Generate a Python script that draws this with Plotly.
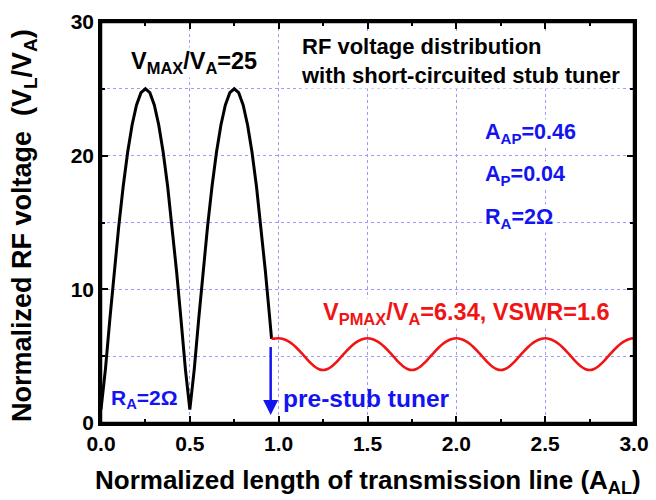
import plotly.graph_objects as go

# Black curve (before stub tuner)
black_x = [0.0, 0.025, 0.05, 0.075, 0.1, 0.125, 0.15, 0.175, 0.2, 0.225,
           0.25, 0.275, 0.3, 0.325, 0.35, 0.375, 0.4, 0.425, 0.45, 0.475,
           0.5, 0.525, 0.55, 0.575, 0.6, 0.625, 0.65, 0.675, 0.7, 0.725,
           0.75, 0.775, 0.8, 0.825, 0.85, 0.875, 0.9, 0.925, 0.95, 0.96]
black_y = [1.00, 4.03, 7.79, 11.39, 14.73, 17.71, 20.25, 22.30, 23.80, 24.71,
           25.00, 24.71, 23.80, 22.30, 20.25, 17.71, 14.73, 11.39, 7.79, 4.03,
           1.00, 4.03, 7.79, 11.39, 14.73, 17.71, 20.25, 22.30, 23.80, 24.71,
           25.00, 24.71, 23.80, 22.30, 20.25, 17.71, 14.73, 11.39, 7.79, 6.30]

# Red curve (after stub tuner)
red_x = [0.96, 0.975,
         1.0, 1.025, 1.05, 1.075, 1.1, 1.125, 1.15, 1.175, 1.2, 1.225,
         1.25, 1.275, 1.3, 1.325, 1.35, 1.375, 1.4, 1.425, 1.45, 1.475,
         1.5, 1.525, 1.55, 1.575, 1.6, 1.625, 1.65, 1.675, 1.7, 1.725,
         1.75, 1.775, 1.8, 1.825, 1.85, 1.875, 1.9, 1.925, 1.95, 1.975,
         2.0, 2.025, 2.05, 2.075, 2.1, 2.125, 2.15, 2.175, 2.2, 2.225,
         2.25, 2.275, 2.3, 2.325, 2.35, 2.375, 2.4, 2.425, 2.45, 2.475,
         2.5, 2.525, 2.55, 2.575, 2.6, 2.625, 2.65, 2.675, 2.7, 2.725,
         2.75, 2.775, 2.8, 2.825, 2.85, 2.875, 2.9, 2.925, 2.95, 2.975,
         3.0]
red_y = [6.30, 6.31,
         6.34, 6.29, 6.15, 5.93, 5.63, 5.29, 4.92, 4.55, 4.25, 4.04,
         3.96, 4.04, 4.25, 4.55, 4.92, 5.29, 5.63, 5.93, 6.15, 6.29,
         6.34, 6.29, 6.15, 5.93, 5.63, 5.29, 4.92, 4.55, 4.25, 4.04,
         3.96, 4.04, 4.25, 4.55, 4.92, 5.29, 5.63, 5.93, 6.15, 6.29,
         6.34, 6.29, 6.15, 5.93, 5.63, 5.29, 4.92, 4.55, 4.25, 4.04,
         3.96, 4.04, 4.25, 4.55, 4.92, 5.29, 5.63, 5.93, 6.15, 6.29,
         6.34, 6.29, 6.15, 5.93, 5.63, 5.29, 4.92, 4.55, 4.25, 4.04,
         3.96, 4.04, 4.25, 4.55, 4.92, 5.29, 5.63, 5.93, 6.15, 6.29,
         6.34]

x_title = "Normalized length of transmission line (A<sub>AL</sub>)"
y_title = "Normalized RF voltage  (V<sub>L</sub>/V<sub>A</sub>)"

FONT = "Liberation Sans"
BLUE = "#1414f0"
RED = "#f01414"
GRID = "#9a9aff"

fig = go.Figure()
fig.add_trace(go.Scatter(x=black_x, y=black_y, mode="lines",
                         line=dict(color="black", width=3), showlegend=False))
fig.add_trace(go.Scatter(x=red_x, y=red_y, mode="lines", line_shape="spline",
                         line=dict(color=RED, width=2.6), showlegend=False))

axis_common = dict(
    showline=True, linecolor="black", linewidth=2.5, mirror="ticks",
    ticks="inside", ticklen=7, tickwidth=2, tickcolor="black",
    showgrid=True, gridcolor=GRID, gridwidth=1, griddash="dot",
    zeroline=False, automargin=False, ticklabeloverflow="allow",
    tickfont=dict(family=FONT, size=21, color="black", weight="bold"),
)

fig.update_xaxes(range=[0, 3], dtick=0.5, tick0=0, tickformat=".1f",
                 minor=dict(dtick=0.25, ticks="inside", ticklen=4, tickwidth=2,
                            tickcolor="black", showgrid=False),
                 **axis_common)
fig.update_yaxes(range=[0, 30], dtick=10, tick0=0,
                 minor=dict(dtick=5, ticks="inside", ticklen=4, tickwidth=2,
                            tickcolor="black", showgrid=True, gridcolor=GRID,
                            gridwidth=1, griddash="dot"),
                 **axis_common)

W, H = 656, 500
L, R, T, B = 101, 22, 22, 77
pw, ph = W - L - R, H - T - B

def px(xp):
    return (xp - L) / pw

def py(yp):
    return (H - B - yp) / ph

def ann(text, x, y, color, size, xanchor="left", bg="rgba(0,0,0,0)", angle=0):
    fig.add_annotation(text=text, x=x, y=y, xref="paper", yref="paper",
                       xanchor=xanchor, yanchor="middle", showarrow=False,
                       align="left", bgcolor=bg, borderpad=0, textangle=angle,
                       font=dict(family=FONT, size=size, color=color, weight="bold"))

# frame of the plot area (guarantees the right/top border is drawn)
fig.add_shape(type="rect", xref="paper", yref="paper", x0=0, y0=0, x1=1, y1=1,
              line=dict(color="black", width=2.5), layer="above")

# axis titles
ann(x_title, px(368), py(481), "black", 26, xanchor="center")
ann(y_title, px(24), py(226), "black", 27, xanchor="center", angle=-90)

ann("V<sub>MAX</sub>/V<sub>A</sub>=25", px(194), py(62), "black", 23.5, xanchor="center", bg="white")
ann("RF voltage distribution<br>with short-circuited stub tuner", px(300), py(61), "black", 22, bg="white")
ann("A<sub>AP</sub>=0.46", px(484), py(133), BLUE, 21.5, bg="white")
ann("A<sub>P</sub>=0.04", px(484), py(175), BLUE, 21.5, bg="white")
ann("R<sub>A</sub>=2Ω", px(484), py(218), BLUE, 21.5, bg="white")
ann("V<sub>PMAX</sub>/V<sub>A</sub>=6.34, VSWR=1.6", px(322), py(313), RED, 23.5, bg="white")
ann("R<sub>A</sub>=2Ω", px(110), py(399), BLUE, 21)
ann("pre-stub tuner", px(282), py(398), BLUE, 24.5)

fig.add_annotation(x=0.955, y=0.6, ax=0.955, ay=5.8, xref="x", yref="y",
                   axref="x", ayref="y", showarrow=True, arrowhead=2,
                   arrowsize=1.2, arrowwidth=2.5, arrowcolor=BLUE, text="")

fig.update_layout(width=W, height=H, margin=dict(l=L, r=R, t=T, b=B),
                  plot_bgcolor="white", paper_bgcolor="white")

fig.write_html("out.html")
